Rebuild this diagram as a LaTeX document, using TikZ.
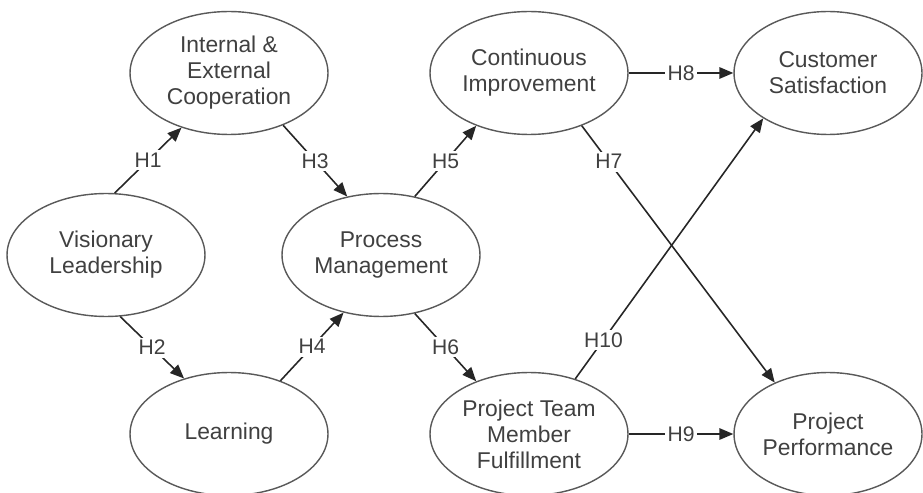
\documentclass[tikz,border=0pt]{standalone}
\usepackage{fontspec}
\setmainfont{Liberation Sans}
\usetikzlibrary{shapes,arrows.meta,positioning}

\begin{document}
\begin{tikzpicture}[x=0.02cm,y=-0.02cm,
    latent/.style={ellipse, draw=black!65, line width=0.8pt, minimum width=3.96cm,
        minimum height=2.46cm, inner sep=0pt, align=center, text=black!75,
        font=\fontsize{13}{14.8}\selectfont},
    link/.style={draw=black!85, line width=0.9pt, -{Triangle[length=2.8mm,width=2.3mm]}},
    hyp/.style={fill=white, inner sep=1.5pt, text=black!75, font=\fontsize{12}{14}\selectfont}]
    \useasboundingbox (0,0) rectangle (923,493);

    % Constructs
    \node [latent] (vl) at (106,255) {Visionary\\Leadership};
    \node [latent] (iec) at (229,73) {Internal \&\\External\\Cooperation};
    \node [latent] (lrn) at (229,434) {Learning};
    \node [latent] (pm) at (381,255) {Process\\Management};
    \node [latent] (ci) at (529,73) {Continuous\\Improvement};
    \node [latent] (ptm) at (529,434) {Project Team\\Member\\Fulfillment};
    \node [latent, minimum width=3.76cm] (cs) at (828,73) {Customer\\Satisfaction};
    \node [latent, minimum width=3.76cm] (pp) at (828,434) {Project\\Performance};

    % Hypotheses H1--H10
    \draw [link] (vl.82) -- node [hyp] {H1} (iec.229);
    \draw [link] (vl.283) -- node [hyp] {H2} (lrn.129);
    \draw [link] (iec.316) -- node [hyp] {H3} (pm.120);
    \draw [link] (lrn.46) -- node [hyp] {H4} (pm.237);
    \draw [link] (pm.60) -- node [hyp] {H5} (ci.225);
    \draw [link] (pm.300) -- node [hyp] {H6} (ptm.135);
    \draw [link] (ci.315) -- node [hyp, pos=0.14] {H7} (pp.136);
    \draw [link] (ci.east) -- node [hyp] {H8} (cs.west);
    \draw [link] (ptm.east) -- node [hyp] {H9} (pp.west);
    \draw [link] (ptm.50) -- node [hyp, pos=0.15] {H10} (cs.215);
\end{tikzpicture}
\end{document}
